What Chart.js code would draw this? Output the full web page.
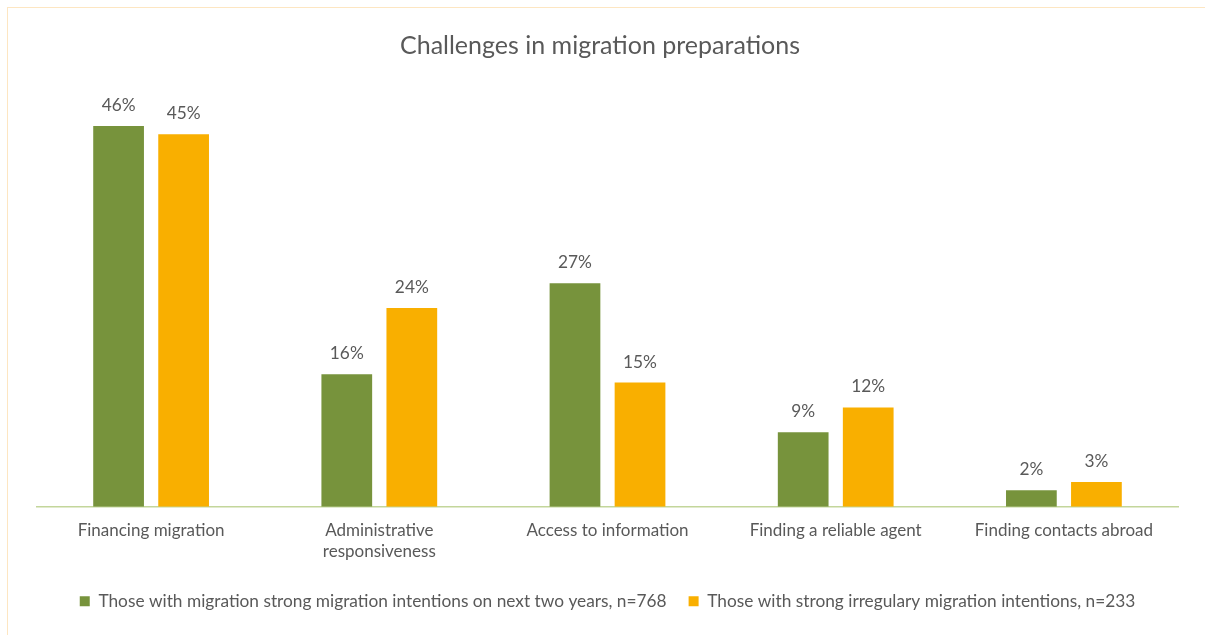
<!DOCTYPE html>
<html>
<head>
<meta charset="utf-8">
<script src="https://cdn.jsdelivr.net/npm/chart.js@4"></script>
<style>
  html, body { margin: 0; padding: 0; background: #fff; overflow: hidden; }
  .frame { position: absolute; left: 7px; top: 7px; width: 1220px; height: 650px; border: 1px solid #FDE6C2; box-sizing: border-box; }
  .chart-wrap { position: absolute; left: 0; top: 0; width: 1205px; height: 635px; }
</style>
</head>
<body>
<div class="frame"></div>
<div class="chart-wrap"><canvas id="migrationChart"></canvas></div>
<script>
/* Challenges in migration preparations */
const chartTitle = 'Challenges in migration preparations';
const categories = ['Financing migration', ['Administrative', 'responsiveness'], 'Access to information', 'Finding a reliable agent', 'Finding contacts abroad'];
const strongIntentions = [46, 16, 27, 9, 2];
const irregularIntentions = [45, 24, 15, 12, 3];
const seriesNames = [
  'Those with migration strong migration intentions on next two years, n=768',
  'Those with strong irregulary migration intentions, n=233'
];

const FONT = 'Lato, Calibri, sans-serif';
const TEXT = '#595959';

// title (centred on the page, not on the plot area) + value labels above bars
const annotate = {
  id: 'annotate',
  afterDatasetsDraw(chart) {
    const ctx = chart.ctx;
    ctx.save();
    ctx.fillStyle = TEXT;
    ctx.textAlign = 'center';
    ctx.textBaseline = 'middle';
    ctx.font = '25px ' + FONT;
    ctx.fillText(chartTitle, 600, 46);
    ctx.font = '17.3px ' + FONT;
    ctx.textBaseline = 'bottom';
    chart.data.datasets.forEach((ds, i) => {
      chart.getDatasetMeta(i).data.forEach((bar, j) => {
        ctx.fillText(ds.data[j] + '%', bar.x, bar.y - 12);
      });
    });
    ctx.restore();
  }
};

new Chart(document.getElementById('migrationChart'), {
  type: 'bar',
  data: {
    labels: categories,
    datasets: [
      { label: seriesNames[0], data: strongIntentions, backgroundColor: '#77933C', barPercentage: 0.78, categoryPercentage: 0.57 },
      { label: seriesNames[1], data: irregularIntentions, backgroundColor: '#F9AF00', barPercentage: 0.78, categoryPercentage: 0.57 }
    ]
  },
  options: {
    responsive: true, maintainAspectRatio: false, animation: false,
    layout: { padding: { left: 37, right: 27, top: 93, bottom: 15 } },
    plugins: {
      title: { display: false },
      legend: { position: 'bottom', labels: { color: TEXT, font: { family: FONT, size: 17.3 }, boxWidth: 10, boxHeight: 10, padding: 22 } },
      tooltip: { enabled: false }
    },
    scales: {
      x: {
        grid: { display: false, drawTicks: false },
        border: { color: '#C3D69B', width: 1.5 },
        ticks: { color: TEXT, font: { family: FONT, size: 17 }, padding: 14, maxRotation: 0, autoSkip: false },
        afterFit(scale) { scale.height = 64; }
      },
      y: { display: false, min: 0, max: 50 }
    }
  },
  plugins: [annotate]
});
</script>
</body>
</html>
